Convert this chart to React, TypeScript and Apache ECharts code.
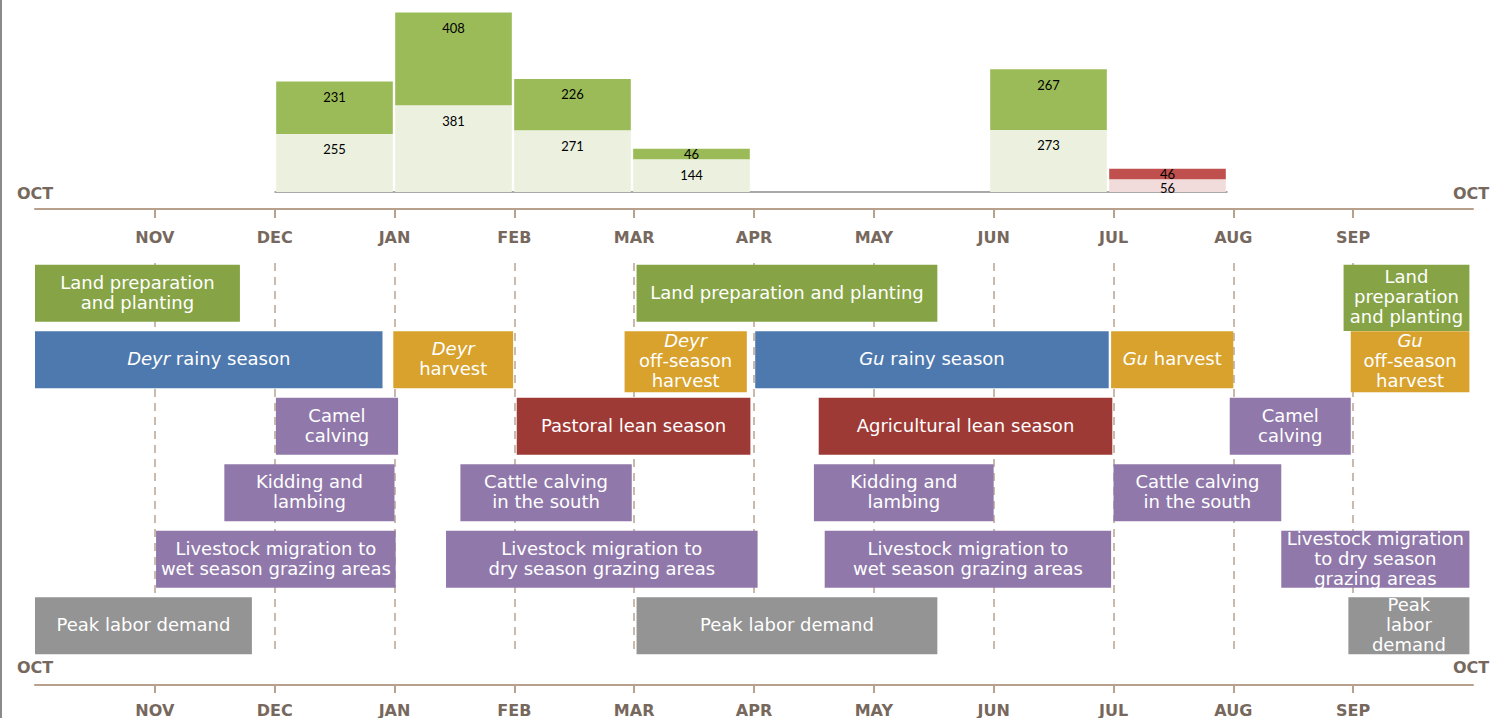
import React, { useEffect, useRef } from "react";
import * as echarts from "echarts";

// ---- Top bar chart data ----
const barMonths = ["Dec", "Jan", "Feb", "Mar", "Apr", "May", "Jun", "Jul"];
const lowerValues = [255, 381, 271, 144, null, null, 273, 56];
const upperValues = [231, 408, 226, 46, null, null, 267, 46];
const lateMonth = "Jul";

// ---- Calendar axis labels ----
const calMonths = ["OCT", "NOV", "DEC", "JAN", "FEB", "MAR", "APR", "MAY", "JUN", "JUL", "AUG", "SEP", "OCT"];
const rowNames = ["r1", "r2", "r3", "r4", "r5", "r6"];

// ---- Seasonal activities: [startMonth, endMonth (months since Oct 1), row, label, kind, extraRows] ----
const activities: [number, number, number, string, string, number][] = [
  [0, 1.71, 0, "Land preparation\nand planting", "plant", 0],
  [5.02, 7.53, 0, "Land preparation and planting", "plant", 0],
  [10.92, 11.97, 0, "Land\npreparation\nand planting", "plant", 0.14],
  [0, 2.9, 1, "{i|Deyr} rainy season", "rain", 0],
  [2.99, 3.99, 1, "{i|Deyr}\nharvest", "harvest", 0],
  [4.92, 5.94, 1, "{i|Deyr}\noff-season\nharvest", "harvest", 0.06],
  [6.01, 8.96, 1, "{i|Gu} rainy season", "rain", 0],
  [8.98, 10.0, 1, "{i|Gu} harvest", "harvest", 0],
  [10.98, 11.97, 1, "{i|Gu}\noff-season\nharvest", "harvest", 0.06],
  [2.01, 3.03, 2, "Camel\ncalving", "livestock", 0],
  [4.02, 5.97, 2, "Pastoral lean season", "lean", 0],
  [6.54, 8.99, 2, "Agricultural lean season", "lean", 0],
  [9.97, 10.98, 2, "Camel\ncalving", "livestock", 0],
  [1.58, 3.0, 3, "Kidding and\nlambing", "livestock", 0],
  [3.55, 4.98, 3, "Cattle calving\nin the south", "livestock", 0],
  [6.5, 8.0, 3, "Kidding and\nlambing", "livestock", 0],
  [9.0, 10.4, 3, "Cattle calving\nin the south", "livestock", 0],
  [1.01, 3.01, 4, "Livestock migration to\nwet season grazing areas", "livestock", 0],
  [3.43, 6.03, 4, "Livestock migration to\ndry season grazing areas", "livestock", 0],
  [6.59, 8.98, 4, "Livestock migration to\nwet season grazing areas", "livestock", 0],
  [10.4, 11.97, 4, "Livestock migration\nto dry season\ngrazing areas", "livestock", 0],
  [0, 1.81, 5, "Peak labor demand", "labor", 0],
  [5.02, 7.53, 5, "Peak labor demand", "labor", 0],
  [10.96, 11.97, 5, "Peak\nlabor\ndemand", "labor", 0],
];

const kindColors: Record<string, string> = {
  plant: "#86a446",
  rain: "#4e79ae",
  harvest: "#d8a22d",
  lean: "#9e3a35",
  livestock: "#9079aa",
  labor: "#949494",
};

const axisColor = "#b7a08c";
const labelColor = "#77685e";
const boxFont = "DejaVu Sans";
const boxFontSize = 18;

export default function App() {
  const ref = useRef<HTMLDivElement>(null);
  useEffect(() => {
    if (!ref.current) return;
    const chart = echarts.init(ref.current, undefined, { renderer: "svg" });

    const monthLabelStyle = {
      color: labelColor,
      fontFamily: "DejaVu Sans",
      fontWeight: "bold" as const,
      fontSize: 16,
    };

    const upperLabel = (v: number) =>
      v > 100 ? { position: "insideTop", distance: 9 } : { position: "insideTop", distance: -1 };
    const lowerLabel = (v: number) =>
      v > 100 ? { position: "insideTop", distance: 9 } : { position: "insideBottom", distance: -2 };

    const option: any = {
      animation: false,
      grid: [
        { left: 275, right: 264, top: 10, height: 182 },
        { left: 35, right: 18, top: 209, bottom: 33 },
        { left: 35, right: 18, top: 263, bottom: 65 },
        { left: 35, right: 18, top: 260, bottom: 59 },
      ],
      xAxis: [
        {
          gridIndex: 0,
          type: "category",
          data: barMonths,
          axisLine: { onZero: false, lineStyle: { color: "#8c8c8c", width: 1.5 } },
          axisTick: { length: 5, lineStyle: { color: "#8c8c8c" } },
          axisLabel: { show: false },
        },
        {
          gridIndex: 1,
          type: "category",
          position: "top",
          data: calMonths,
          boundaryGap: false,
          axisLine: { onZero: false, lineStyle: { color: axisColor, width: 2 } },
          axisTick: {
            inside: true,
            length: 9,
            interval: (i: number) => i > 0 && i < 12,
            lineStyle: { color: axisColor, width: 2 },
          },
          axisLabel: {
            inside: true,
            margin: 20,
            interval: 0,
            formatter: (v: string, i: number) => (i === 0 || i === 12 ? "" : v),
            ...monthLabelStyle,
          },
        },
        {
          gridIndex: 1,
          type: "category",
          position: "bottom",
          data: calMonths,
          boundaryGap: false,
          axisLine: { onZero: false, lineStyle: { color: axisColor, width: 2 } },
          axisTick: {
            length: 8,
            interval: (i: number) => i > 0 && i < 12,
            lineStyle: { color: axisColor, width: 2 },
          },
          axisLabel: {
            margin: 17,
            interval: 0,
            formatter: (v: string, i: number) => (i === 0 || i === 12 ? "" : v),
            ...monthLabelStyle,
          },
        },
        {
          gridIndex: 2,
          type: "value",
          min: 0,
          max: 12,
          interval: 1,
          axisLine: { show: false },
          axisTick: { show: false },
          axisLabel: { show: false },
          splitLine: {
            show: true,
            showMinLine: false,
            showMaxLine: false,
            lineStyle: { type: [8, 6], color: "#b8a493", width: 1.5 },
          },
        },
        { gridIndex: 3, type: "value", min: 0, max: 12, show: false },
      ],
      yAxis: [
        { gridIndex: 0, type: "value", min: 0, max: 800, show: false },
        { gridIndex: 1, type: "value", min: 0, max: 1, show: false },
        { gridIndex: 2, type: "value", min: 0, max: 1, show: false, splitLine: { show: false } },
        { gridIndex: 3, type: "category", data: rowNames, inverse: true, show: false },
      ],
      graphic: [
        {
          type: "line",
          shape: { x1: 1, y1: 0, x2: 1, y2: 718 },
          style: { stroke: "#8a8a8a", lineWidth: 2 },
        },
        ...[
          [35, 193],
          [1471, 193],
          [35, 667],
          [1471, 667],
        ].map(([x, y]) => ({
          type: "text",
          x,
          y,
          style: {
            text: "OCT",
            align: "center",
            verticalAlign: "middle",
            fill: labelColor,
            fontFamily: "DejaVu Sans",
            fontWeight: "bold",
            fontSize: 16,
          },
        })),
      ],
      series: [
        {
          type: "bar",
          name: "Lower",
          stack: "total",
          xAxisIndex: 0,
          yAxisIndex: 0,
          barCategoryGap: "2%",
          label: { show: true, color: "#000", fontSize: 13, fontFamily: "Lato" },
          data: lowerValues.map((v, i) =>
            v == null
              ? null
              : {
                  value: v,
                  itemStyle: { color: barMonths[i] === lateMonth ? "#f2dcdb" : "#ebf1de" },
                  label: lowerLabel(v),
                }
          ),
        },
        {
          type: "bar",
          name: "Upper",
          stack: "total",
          xAxisIndex: 0,
          yAxisIndex: 0,
          barCategoryGap: "2%",
          label: { show: true, color: "#000", fontSize: 13, fontFamily: "Lato" },
          data: upperValues.map((v, i) =>
            v == null
              ? null
              : {
                  value: v,
                  itemStyle: { color: barMonths[i] === lateMonth ? "#c0504d" : "#9bbb59" },
                  label: upperLabel(v),
                }
          ),
        },
        {
          type: "custom",
          xAxisIndex: 4,
          yAxisIndex: 3,
          data: activities.map((a) => [a[0], a[1], a[2], a[5]]),
          renderItem: (params: any, api: any) => {
            const act = activities[params.dataIndex];
            const s = api.coord([api.value(0), api.value(2)]);
            const e = api.coord([api.value(1), api.value(2)]);
            const band = api.size([0, 1])[1];
            const h = band * 0.855;
            const top = s[1] - h / 2;
            const height = h + api.value(3) * band;
            return {
              type: "group",
              children: [
                {
                  type: "rect",
                  shape: { x: s[0], y: top, width: e[0] - s[0], height },
                  style: { fill: kindColors[act[4]] },
                },
                {
                  type: "text",
                  style: {
                    x: (s[0] + e[0]) / 2,
                    y: top + height / 2 - 1,
                    text: act[3],
                    align: "center",
                    verticalAlign: "middle",
                    fill: "#fff",
                    fontSize: boxFontSize,
                    fontFamily: boxFont,
                    lineHeight: 20,
                    rich: {
                      i: {
                        fontStyle: "italic",
                        fontSize: boxFontSize,
                        fontFamily: boxFont,
                        fill: "#fff",
                        lineHeight: 20,
                      },
                    },
                  },
                },
              ],
            };
          },
        },
      ],
    };
    chart.setOption(option);
    return () => chart.dispose();
  }, []);

  return (
    <div
      ref={ref}
      style={{ position: "absolute", left: 0, top: 0, width: 1491, height: 718, background: "#fff" }}
    />
  );
}
